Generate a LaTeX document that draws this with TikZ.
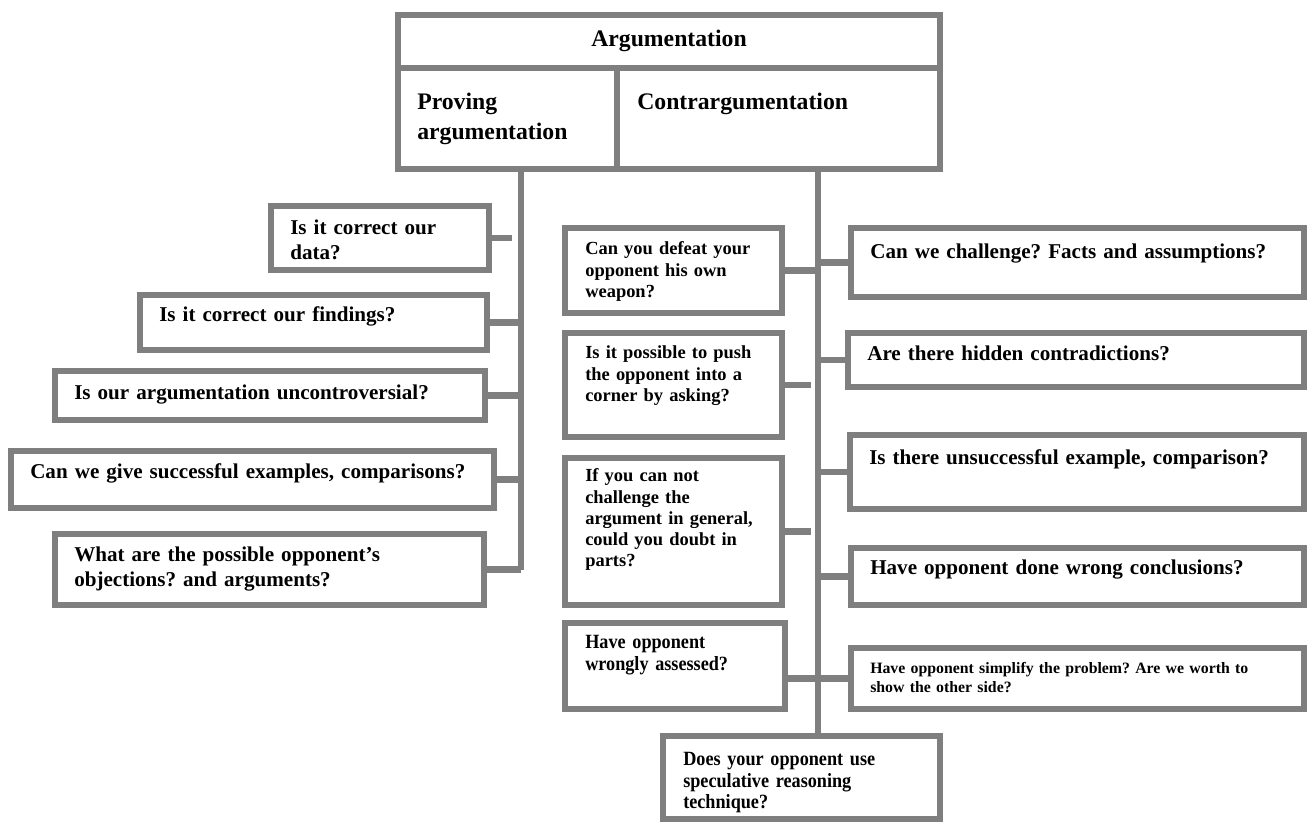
\documentclass[tikz,border=0pt]{standalone}
\usepackage{fontspec}
\setmainfont{Liberation Serif}
\newfontfamily\narrowserif[FakeStretch=0.9]{Liberation Serif}
\usetikzlibrary{positioning, fit, calc}
\definecolor{boxGray}{HTML}{7F7F7F}
\frenchspacing

\begin{document}
\begin{tikzpicture}[x=0.02cm, y=-0.02cm,
    qbox/.style={draw=boxGray, line width=3.5pt, inner sep=0pt},
    link/.style={draw=boxGray, line width=3.5pt},
    qtext/.style={anchor=base west, inner sep=0pt, align=left, text width=10cm,
      font=\bfseries\fontsize{12}{14}\selectfont},
    midtext/.style={qtext, font=\bfseries\fontsize{10.5}{12}\selectfont},
    narrowtext/.style={qtext, font=\narrowserif\bfseries\fontsize{11.5}{12.2}\selectfont},
    tinytext/.style={qtext, font=\bfseries\fontsize{9}{10.8}\selectfont},
    headtext/.style={qtext, font=\bfseries\fontsize{13.5}{17}\selectfont}]
  \useasboundingbox (0,0) rectangle (1309,822);

  % header
  \node[qbox, fit={(398,15) (940,68)}] (title) {};
  \node[qbox, fit={(398,68) (617,169)}] (prove) {};
  \node[qbox, fit={(617,68) (940,169)}] (contra) {};
  \node[headtext, text width=, anchor=base] (titlet) at ($(title.north)+(0,35)$) {Argumentation};
  \node[headtext] (provet) at ($(prove.north west)+(22,45)$) {Proving\\argumentation};
  \node[headtext] (contrat) at ($(contra.north west)+(23,45)$) {Contrargumentation};

  % proving side
  \foreach \n/\ax/\ay/\bx/\by/\dy/\txt in {
      L1/271/206/489/270/32/{Is it correct our\\data?},
      L2/140/295/487/350/30/{Is it correct our findings?},
      L3/55/371/485/420/32/{Is our argumentation uncontroversial?},
      L4/11/451/494/508/31/{Can we give successful examples, comparisons?},
      L5/55/534/484/605/31/{What are the possible opponent's\\objections? and arguments?}} {
    \node[qbox, fit={(\ax,\ay) (\bx,\by)}] (\n) {};
    \node[qtext] (\n t) at ($(\n.north west)+(22,\dy)$) {\txt};
  }

  % contrargumentation, left column
  \foreach \n/\ay/\by/\dy/\txt in {
      M1/228/313/30/{Can you defeat your\\opponent his own\\weapon?},
      M2/333/437/29/{Is it possible to push\\the opponent into a\\corner by asking?},
      M3/458/605/27/{If you can not\\challenge the\\argument in general,\\could you doubt in\\parts?}} {
    \node[qbox, fit={(565,\ay) (782,\by)}] (\n) {};
    \node[midtext] (\n t) at ($(\n.north west)+(23,\dy)$) {\txt};
  }
  \node[qbox, fit={(565,623) (785,709)}] (M4) {};
  \node[narrowtext] (M4t) at ($(M4.north west)+(23,29)$) {Have opponent\\wrongly assessed?};
  \node[qbox, fit={(663,736) (940,819)}] (B) {};
  \node[narrowtext] (Bt) at ($(B.north west)+(23,33)$)
    {Does your opponent use\\speculative reasoning\\technique?};

  % contrargumentation, right column
  \foreach \n/\ax/\ay/\by/\dy/\txt in {
      R1/851/228/297/34/{Can we challenge? Facts and assumptions?},
      R2/848/333/387/31/{Are there hidden contradictions?},
      R3/850/435/509/33/{Is there unsuccessful example, comparison?},
      R4/851/548/605/30/{Have opponent done wrong conclusions?}} {
    \node[qbox, fit={(\ax,\ay) (1304,\by)}] (\n) {};
    \node[qtext] (\n t) at ($(\n.north west)+(22,\dy)$) {\txt};
  }
  \node[qbox, fit={(851,648) (1304,709)}] (R5) {};
  \node[tinytext] (R5t) at ($(R5.north west)+(22,29)$)
    {Have opponent simplify the problem? Are we worth to\\show the other side?};

  % stems and ticks
  \coordinate (lstem) at (521,169);
  \coordinate (lstemEnd) at (521,570);
  \coordinate (rstem) at (818,169);
  \draw[link] (lstem) -- (lstemEnd);
  \draw[link] (rstem) -- (rstem |- B.north);
  \draw[link] (L1.east) -- ($(L1.east -| lstem)+(-9,0)$);
  \foreach \n in {L2,L3,L4,L5}
    \draw[link] (\n.east) -- (\n.east -| lstem);
  \draw[link] (M1.east) -- (M1.east -| rstem);
  \foreach \n in {M2,M3}
    \draw[link] (\n.east) -- ($(\n.east -| rstem)+(-7,0)$);
  \foreach \n in {R1,R2,R3,R4}
    \draw[link] (\n.west -| rstem) -- (\n.west);
  \draw[link] (M4.east |- R5.west) -- (R5.west);
\end{tikzpicture}
\end{document}
